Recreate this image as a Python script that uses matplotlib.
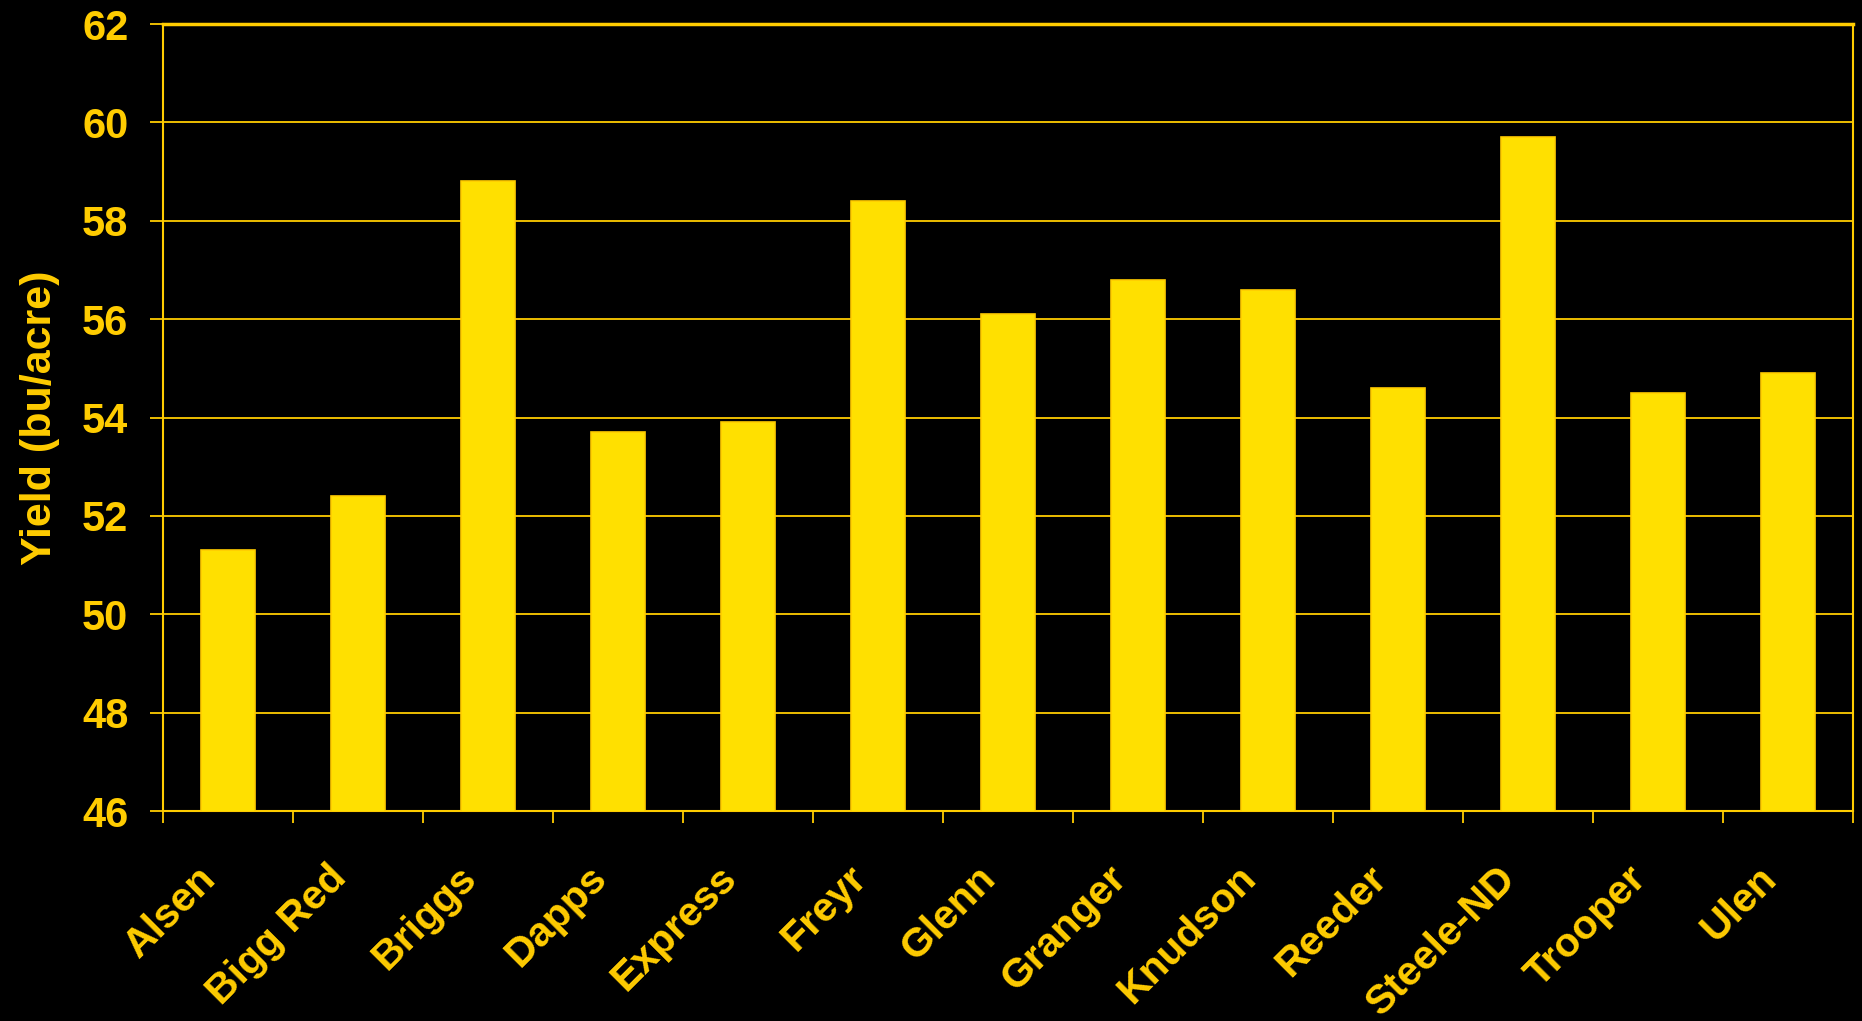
import numpy as np
import matplotlib
matplotlib.use("Agg")
import matplotlib.pyplot as plt
import matplotlib.transforms as mtransforms

# data varietas dan hasil panen
varieties = ["Alsen", "Bigg Red", "Briggs", "Dapps", "Express", "Freyr", "Glenn",
             "Granger", "Knudson", "Reeder", "Steele-ND", "Trooper", "Ulen"]
yields = [51.3, 52.4, 58.8, 53.7, 53.9, 58.4, 56.1, 56.8, 56.6, 54.6, 59.7, 54.5, 54.9]
y_ticks = [46, 48, 50, 52, 54, 56, 58, 60, 62]

gold = '#FFCC00'
bar_fill = '#FFE000'

plt.rcParams['font.family'] = ['Liberation Sans', 'DejaVu Sans']

fig = plt.figure(figsize=(18.62, 10.21), dpi=100, facecolor='black')
ax = fig.add_axes([163 / 1862, 1 - 811 / 1021, (1853 - 163) / 1862, (811 - 24) / 1021])
ax.set_facecolor('black')

x = np.arange(len(varieties))
ax.bar(x, yields, width=0.41, color=bar_fill, edgecolor=gold, linewidth=1.2, zorder=3)

ax.set_ylim(46, 62)
ax.set_xlim(-0.5, len(varieties) - 0.5)
ax.set_yticks(y_ticks)
ax.set_yticklabels([str(v) for v in y_ticks], fontsize=30, fontweight='bold', color=gold)
ax.yaxis.grid(True, color=gold, linewidth=1.3, zorder=1)
ax.tick_params(axis='y', colors=gold, length=9.4, width=1.3, pad=15.5)

# label di tengah kategori, tick di batas kategori
ax.set_xticks(x)
ax.set_xticklabels(varieties, fontsize=29.5, fontweight='bold', color=gold,
                   rotation=45, ha='right', va='center', rotation_mode='anchor')
ax.tick_params(axis='x', which='major', length=0, pad=44)
shift = mtransforms.ScaledTranslation(-18 / 100, 0, fig.dpi_scale_trans)
for lbl in ax.get_xticklabels():
    lbl.set_transform(lbl.get_transform() + shift)
ax.set_xticks(np.arange(-0.5, len(varieties), 1.0), minor=True)
ax.tick_params(axis='x', which='minor', colors=gold, length=8.6, width=1.3)

for s in ax.spines.values():
    s.set_color(gold)
    s.set_linewidth(1.5)
ax.spines['top'].set_linewidth(2.5)

ax.set_ylabel('Yield (bu/acre)', fontsize=31, fontweight='bold', color=gold)
ax.yaxis.set_label_coords(-0.061, 0.5)

fig.savefig('out.png', dpi=100, facecolor='black')
